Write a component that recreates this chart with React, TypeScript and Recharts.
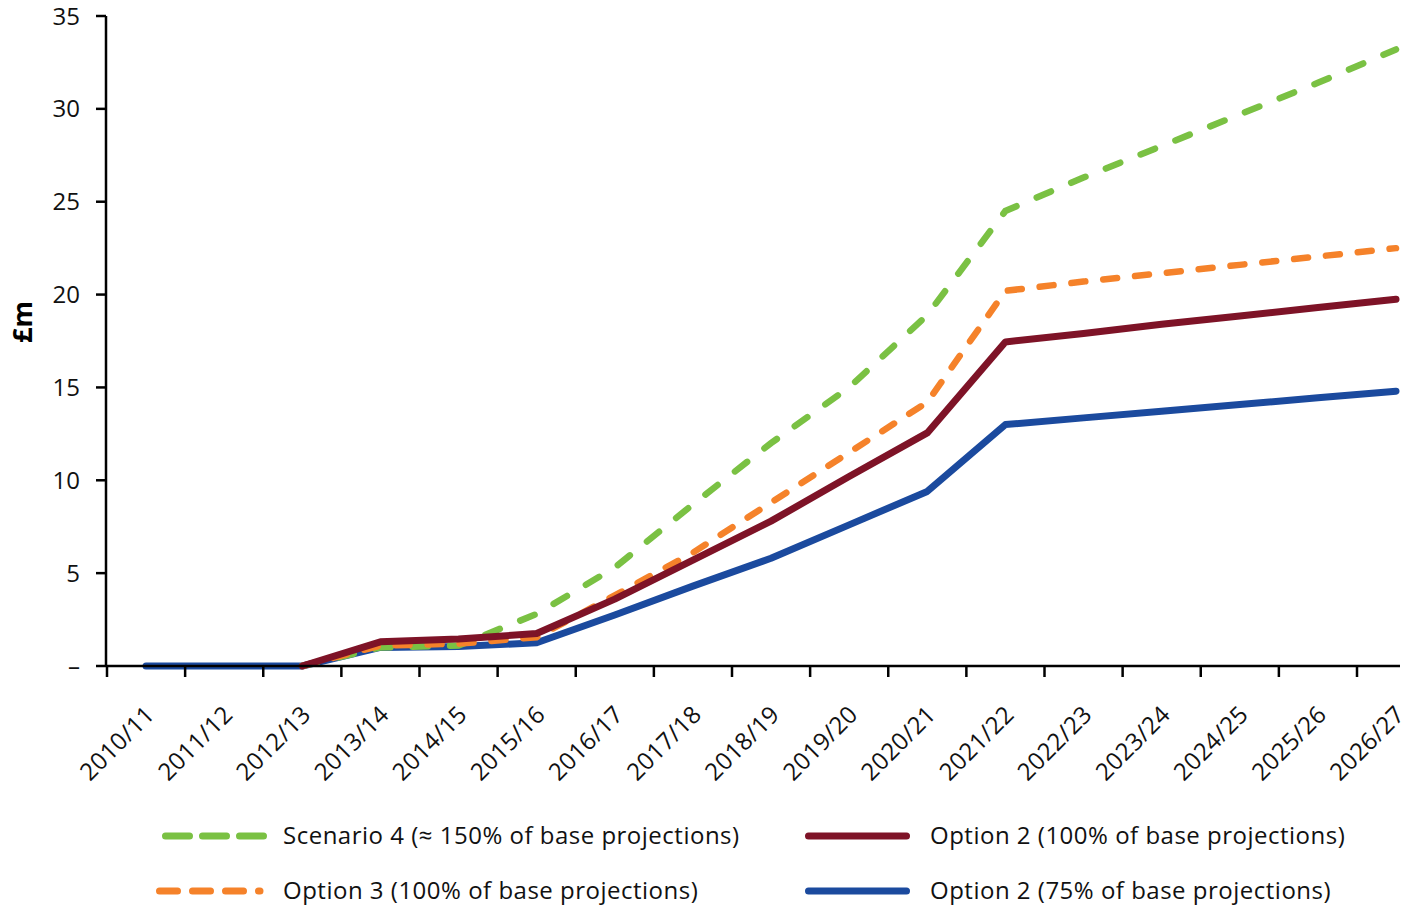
import React from "react";
import { LineChart, Line, XAxis, YAxis, Label } from "recharts";

const years = [
  "2010/11", "2011/12", "2012/13", "2013/14", "2014/15", "2015/16", "2016/17", "2017/18", "2018/19",
  "2019/20", "2020/21", "2021/22", "2022/23", "2023/24", "2024/25", "2025/26", "2026/27",
];
// £m
const scenario4 = [null, null, 0, 1.0, 1.1, 2.8, 5.3, 8.7, 12.0, 15.0, 18.9, 24.5, 26.3, 28.0, 29.7, 31.4, 33.2];
const option2Full = [null, null, 0, 1.3, 1.45, 1.75, 3.6, 5.7, 7.8, 10.2, 12.55, 17.45, 17.9, 18.4, 18.85, 19.3, 19.75];
const option3 = [null, null, 0, 1.1, 1.2, 1.55, 3.8, 6.1, 8.8, 11.5, 14.2, 20.2, 20.7, 21.15, 21.6, 22.05, 22.5];
const option2Low = [0, 0, 0, 1.0, 1.05, 1.25, 2.75, 4.3, 5.8, 7.6, 9.4, 13.0, 13.36, 13.72, 14.08, 14.44, 14.8];
const yTicks = [0, 5, 10, 15, 20, 25, 30, 35];

const data = years.map((year, i) => ({
  year,
  scenario4: scenario4[i],
  option2Full: option2Full[i],
  option3: option3[i],
  option2Low: option2Low[i],
}));

const FONT = "'Open Sans', 'Noto Sans', sans-serif";
const HALF_STEP = 39;

const GREEN = "#7AC143";
const ORANGE = "#F5822A";
const CRIMSON = "#7E1327";
const BLUE = "#1B4A9E";

const YearTick = (props: any) => {
  const { x, y, payload } = props;
  const ax = x + 10;
  const ay = y + 50;
  return (
    <g>
      <line x1={x - HALF_STEP} y1={y} x2={x - HALF_STEP} y2={y + 11} stroke="#000" strokeWidth={2.5} />
      <text
        x={ax}
        y={ay}
        transform={`rotate(-45, ${ax}, ${ay})`}
        textAnchor="end"
        fontFamily={FONT}
        fontSize={24}
        letterSpacing={0.3}
        fill="#111"
      >
        {payload.value}
      </text>
    </g>
  );
};

const LegendRow = ({ x1, x2, textX, y, color, dash, label }: any) => (
  <g>
    <line x1={x1} y1={y} x2={x2} y2={y} stroke={color} strokeWidth={7} strokeDasharray={dash} strokeLinecap="round" />
    <text x={textX} y={y + 8} fontFamily={FONT} fontSize={24} letterSpacing={0.5} fill="#111">
      {label}
    </text>
  </g>
);

export default function App() {
  return (
    <div style={{ position: "absolute", left: 0, top: 0, width: 1419, height: 907, background: "#fff" }}>
      <LineChart
        width={1419}
        height={907}
        data={data}
        margin={{ top: 16, right: 19, bottom: 141, left: 10 }}
      >
        <XAxis
          dataKey="year"
          padding={{ left: 40, right: 4 }}
          axisLine={{ stroke: "#000", strokeWidth: 2.5 }}
          tickLine={false}
          tickSize={0}
          tickMargin={0}
          interval={0}
          height={100}
          tick={<YearTick />}
        />
        <YAxis
          width={96}
          domain={[0, 35]}
          ticks={yTicks}
          interval={0}
          axisLine={{ stroke: "#000", strokeWidth: 2.5 }}
          tickLine={{ stroke: "#000", strokeWidth: 2.5 }}
          tickSize={10}
          tickMargin={16}
          tickFormatter={(v: number) => (v === 0 ? "–" : String(v))}
          tick={{ fontFamily: FONT, fontSize: 24, fill: "#111" }}
        >
          <Label
            content={() => (
              <text
                x={32}
                y={322}
                transform="rotate(-90, 32, 322)"
                textAnchor="middle"
                fontFamily={FONT}
                fontSize={27}
                fontWeight="bold"
                fill="#000"
              >
                £m
              </text>
            )}
          />
        </YAxis>
        <Line dataKey="option2Low" stroke={BLUE} strokeWidth={7} dot={false} strokeLinecap="round" strokeLinejoin="round" isAnimationActive={false} />
        <Line dataKey="scenario4" stroke={GREEN} strokeWidth={6.5} strokeDasharray="15.5 22" dot={false} strokeLinecap="round" isAnimationActive={false} />
        <Line dataKey="option3" stroke={ORANGE} strokeWidth={6.5} strokeDasharray="14 18" dot={false} strokeLinecap="round" isAnimationActive={false} />
        <Line dataKey="option2Full" stroke={CRIMSON} strokeWidth={7} dot={false} strokeLinecap="round" strokeLinejoin="round" isAnimationActive={false} />
      </LineChart>
      <svg width={1419} height={107} style={{ position: "absolute", left: 0, top: 800 }}>
        <LegendRow x1={165.5} x2={265.5} textX={283} y={36} color={GREEN} dash="24 13" label="Scenario 4 (≈ 150% of base projections)" />
        <LegendRow x1={808.5} x2={906.5} textX={930} y={36} color={CRIMSON} label="Option 2 (100% of base projections)" />
        <LegendRow x1={159.5} x2={260} textX={283} y={91} color={ORANGE} dash="18 15" label="Option 3 (100% of base projections)" />
        <LegendRow x1={808.5} x2={906.5} textX={930} y={91} color={BLUE} label="Option 2 (75% of base projections)" />
      </svg>
    </div>
  );
}
